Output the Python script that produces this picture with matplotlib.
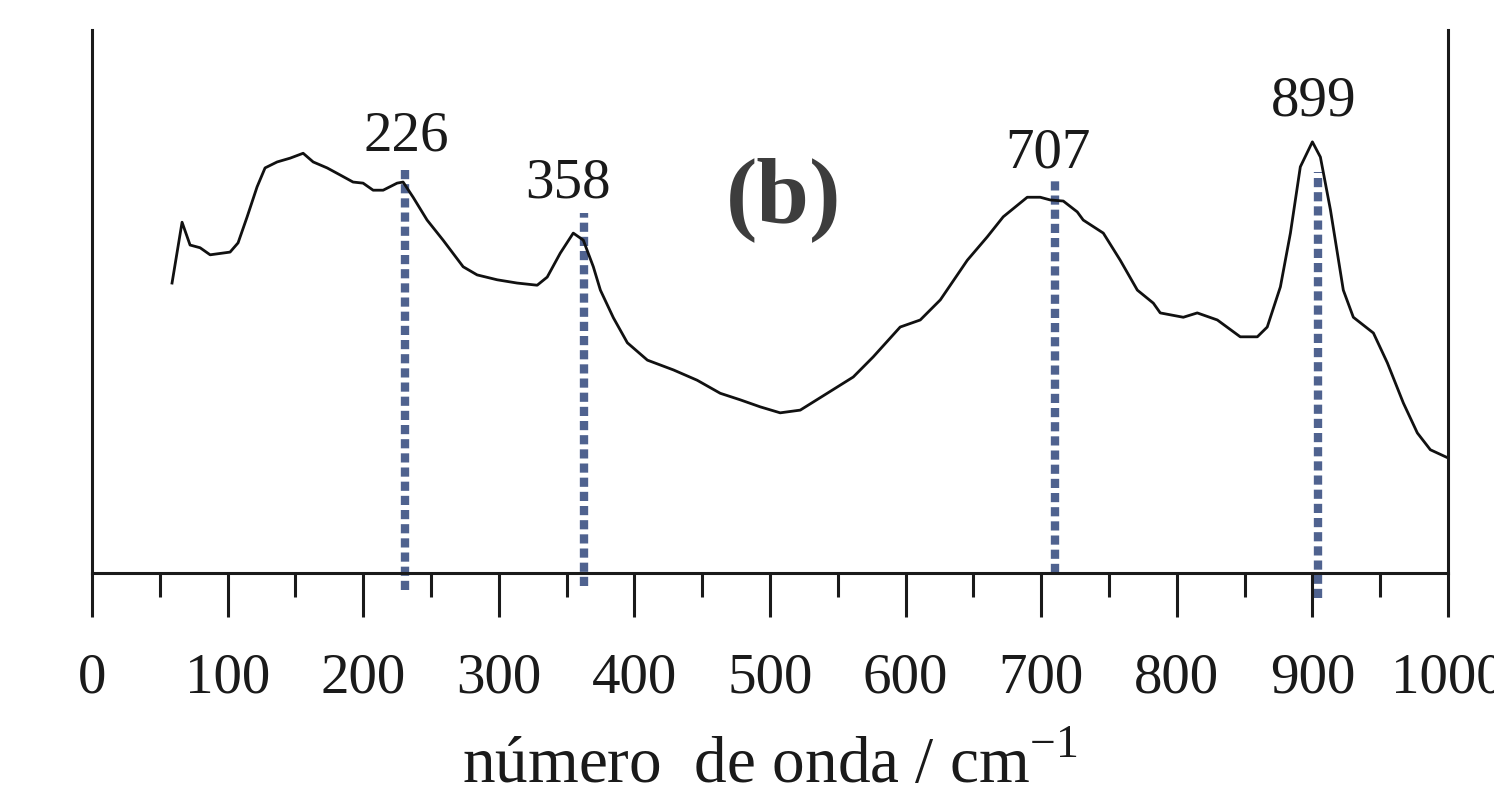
import numpy as np
import matplotlib
matplotlib.use("Agg")
import matplotlib.pyplot as plt
from matplotlib.ticker import MultipleLocator

plt.rcParams['font.family'] = ['Liberation Serif', 'DejaVu Serif']
plt.rcParams['mathtext.fontset'] = 'custom'
plt.rcParams['mathtext.rm'] = 'Liberation Serif'

# spectrum (wavenumber, intensity in arbitrary units)
wavenumber = [59.0, 66.4, 72.3, 79.7, 87.1, 101.8, 107.7, 114.4, 121.7, 127.6,
              136.5, 146.1, 155.7, 163.1, 173.4, 183.0, 192.5, 199.9, 207.3, 214.7,
              225.0, 229.4, 236.8, 247.1, 258.9, 273.7, 284.0, 298.8, 313.5, 328.3,
              335.7, 345.3, 354.9, 362.3, 369.7, 374.9, 384.5, 394.8, 409.6, 428.8,
              446.3, 463.3, 478.0, 492.8, 507.5, 522.3, 542.2, 561.4, 576.1, 596.0,
              610.8, 625.6, 645.5, 660.2, 672.0, 689.7, 699.3, 706.7, 716.3, 726.6,
              731.0, 745.8, 758.3, 770.9, 782.7, 787.8, 804.8, 815.1, 829.9, 846.8,
              859.4, 866.7, 876.4, 883.8, 891.1, 900.0, 905.9, 913.3, 922.8, 930.2,
              945.0, 955.3, 967.1, 977.4, 987.0, 1000.0]
intensity = [53.4, 64.6, 60.4, 59.9, 58.6, 59.1, 60.8, 65.6, 71.1, 74.6,
             75.7, 76.4, 77.3, 75.7, 74.6, 73.3, 72.0, 71.8, 70.5, 70.5,
             71.8, 72.0, 69.2, 65.0, 61.3, 56.4, 54.9, 54.0, 53.4, 53.0,
             54.5, 58.9, 62.6, 61.3, 56.4, 52.1, 47.0, 42.4, 39.2, 37.4,
             35.5, 33.1, 31.9, 30.6, 29.5, 30.0, 33.1, 36.1, 39.8, 45.3,
             46.6, 50.3, 57.6, 61.9, 65.6, 69.2, 69.2, 68.7, 68.5, 66.5,
             65.0, 62.6, 57.6, 52.1, 49.7, 47.9, 47.1, 47.9, 46.6, 43.5,
             43.5, 45.3, 52.7, 62.6, 74.8, 79.4, 76.6, 66.9, 52.1, 47.1,
             44.2, 38.7, 31.3, 25.8, 22.7, 21.2]

# marked bands
peak_labels = ['226', '358', '707', '899']
peak_line_x = [231, 363, 710, 904]
peak_line_top = [74.6, 66.3, 72.4, 73.8]
peak_line_bottom = [-3.1, -2.4, 0.0, -4.6]
label_x = [231.6, 351.1, 705.2, 900.7]
label_y = [77.9, 69.1, 74.6, 84.3]

fig = plt.figure(figsize=(14.94, 8.02), dpi=100)
ax = fig.add_axes([0.0616, 0.2855, 0.9076, 0.6771])

for x, top, bot in zip(peak_line_x, peak_line_top, peak_line_bottom):
    ax.plot([x, x], [bot, top], color='#4f628f', lw=6,
            linestyle=(0, (1.1, 0.6)), dash_capstyle='butt',
            clip_on=False, zorder=1)

ax.plot(wavenumber, intensity, color='#111111', lw=2.0, zorder=2)

for lab, x, y in zip(peak_labels, label_x, label_y):
    ax.text(x, y, lab, ha='center', va='baseline', fontsize=41, color='#1a1a1a')

ax.text(509.7, 64.6, '(b)', ha='center', va='baseline', fontsize=68,
        fontweight='bold', color='#3d3d3d')

ax.set_xlim(0, 1000)
ax.set_ylim(0, 100)
ax.spines['top'].set_visible(False)
for s in ['left', 'right', 'bottom']:
    ax.spines[s].set_linewidth(2.2)
    ax.spines[s].set_color('#1a1a1a')

ax.set_yticks([])
ax.xaxis.set_major_locator(MultipleLocator(100))
ax.xaxis.set_minor_locator(MultipleLocator(50))
ax.tick_params(axis='x', which='major', direction='out', length=32, width=2.2,
               color='#1a1a1a', labelsize=41, pad=25, labelcolor='#1a1a1a')
ax.tick_params(axis='x', which='minor', direction='out', length=17, width=2.2,
               color='#1a1a1a')

ax.set_xlabel('número  de onda / cm$^{\\mathregular{-1}}$', fontsize=47,
              labelpad=22, color='#1a1a1a')

fig.savefig('out.png', dpi=100, facecolor='white')
